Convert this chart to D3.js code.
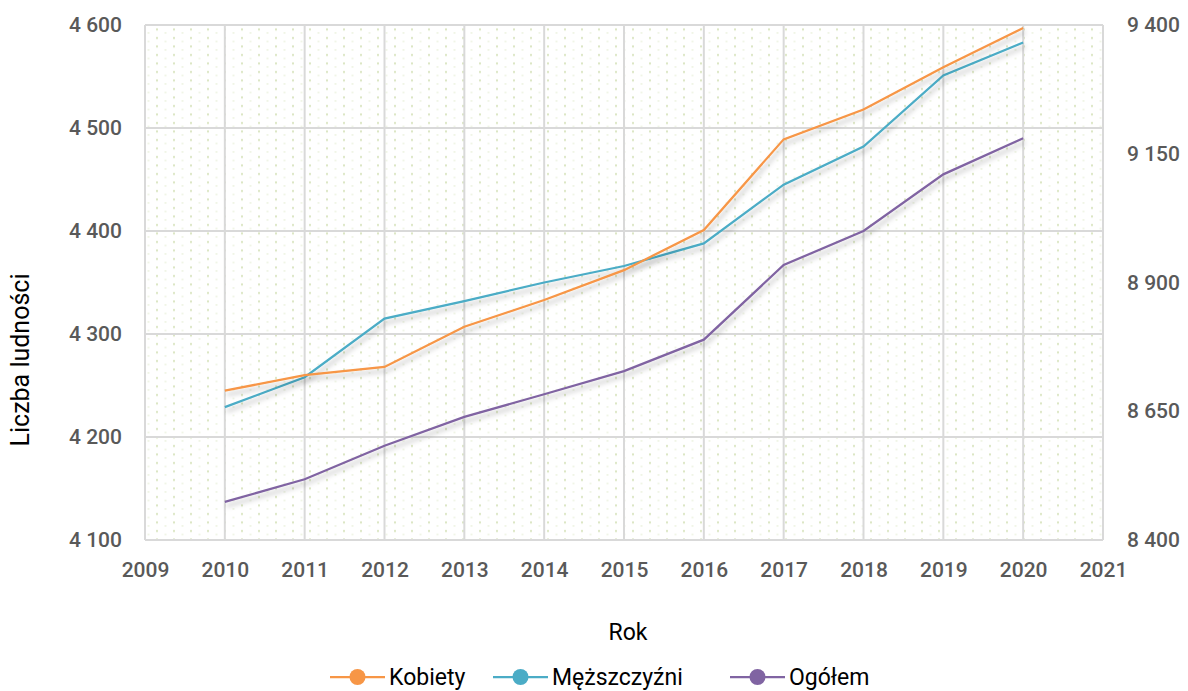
<!DOCTYPE html>
<html>
<head>
<meta charset="utf-8">
<script src="https://cdn.jsdelivr.net/npm/d3@7"></script>
<style>
  body { margin: 0; background: #fff; }
  text { font-family: Roboto, "DejaVu Sans", sans-serif; }
</style>
</head>
<body>
<div id="chart"></div>
<script>
const w = 1188;
const h = 691;

// data
const years = [2010, 2011, 2012, 2013, 2014, 2015, 2016, 2017, 2018, 2019, 2020];
const kobiety = [4245, 4260, 4268, 4307, 4333, 4362, 4401, 4489, 4518, 4559, 4597];
const mezczyzni = [4229, 4258, 4315, 4332, 4350, 4366, 4388, 4445, 4482, 4551, 4583];
const ogolem = [8474, 8518, 8583, 8639, 8683, 8728, 8789, 8934, 9000, 9110, 9180];
const leftTicks = [4100, 4200, 4300, 4400, 4500, 4600];
const rightTicks = [8400, 8650, 8900, 9150, 9400];
const xTicks = [2009, 2010, 2011, 2012, 2013, 2014, 2015, 2016, 2017, 2018, 2019, 2020, 2021];

const pLeft = 145, pRight = 1103, pTop = 25, pBottom = 540;
const fmt = v => d3.format(",")(v).replace(/,/g, " ");

const svg = d3.select('#chart').append('svg')
  .attr('width', w).attr('height', h);

const defs = svg.append('defs');
const pat = defs.append('pattern')
  .attr('id', 'dots').attr('patternUnits', 'userSpaceOnUse')
  .attr('width', 17).attr('height', 8.5);
pat.append('rect').attr('x', 3).attr('y', 3).attr('width', 2).attr('height', 2).attr('fill', '#dae5c2');
pat.append('rect').attr('x', 11.5).attr('y', 7).attr('width', 2).attr('height', 1).attr('fill', '#e4ecd2');

const shadow = defs.append('filter').attr('id', 'shadow')
  .attr('x', '-5%').attr('y', '-5%').attr('width', '110%').attr('height', '120%');
shadow.append('feDropShadow').attr('dx', 2).attr('dy', 4).attr('stdDeviation', 2.5)
  .attr('flood-color', '#000').attr('flood-opacity', 0.25);

const x = d3.scaleLinear().domain([2009, 2021]).range([pLeft, pRight]);
const yL = d3.scaleLinear().domain([4100, 4600]).range([pBottom, pTop]);
const yR = d3.scaleLinear().domain([8400, 9400]).range([pBottom, pTop]);

svg.append('rect').attr('x', pLeft).attr('y', pTop)
  .attr('width', pRight - pLeft).attr('height', pBottom - pTop)
  .attr('fill', 'url(#dots)');

// gridlines
svg.append('g').selectAll('line').data(leftTicks).join('line')
  .attr('x1', pLeft).attr('x2', pRight)
  .attr('y1', d => yL(d)).attr('y2', d => yL(d))
  .attr('stroke', '#d9d9d9').attr('stroke-width', 2);
svg.append('g').selectAll('line').data(xTicks).join('line')
  .attr('y1', pTop).attr('y2', pBottom)
  .attr('x1', d => x(d)).attr('x2', d => x(d))
  .attr('stroke', '#d9d9d9').attr('stroke-width', 2);

// axes
const axL = svg.append('g').attr('transform', 'translate(' + pLeft + ',0)')
  .call(d3.axisLeft(yL).tickValues(leftTicks).tickFormat(fmt).tickSize(0).tickPadding(23));
const axR = svg.append('g').attr('transform', 'translate(' + pRight + ',0)')
  .call(d3.axisRight(yR).tickValues(rightTicks).tickFormat(fmt).tickSize(0).tickPadding(24));
const axB = svg.append('g').attr('transform', 'translate(0,' + pBottom + ')')
  .call(d3.axisBottom(x).tickValues(xTicks).tickFormat(d3.format('d')).tickSize(0).tickPadding(22));
[axL, axR, axB].forEach(a => {
  a.select('.domain').remove();
  a.selectAll('text').attr('font-size', 21).attr('fill', '#595959')
    .attr('font-family', 'Roboto, sans-serif').attr('font-weight', 500);
});

// lines
const series = [
  {name: 'Kobiety', values: kobiety, y: yL, color: '#f79646'},
  {name: 'Męższczyźni', values: mezczyzni, y: yL, color: '#4bacc6'},
  {name: 'Ogółem', values: ogolem, y: yR, color: '#8064a2'}
];
series.slice().reverse().forEach(s => {
  const line = d3.line().x((d, i) => x(years[i])).y(d => s.y(d));
  svg.append('path').datum(s.values)
    .attr('d', line).attr('fill', 'none')
    .attr('stroke', s.color).attr('stroke-width', 2.25)
    .attr('filter', 'url(#shadow)');
});

// axis titles
svg.append('text').attr('x', 628).attr('y', 640).attr('text-anchor', 'middle')
  .attr('font-size', 23).attr('fill', '#000').text('Rok');
svg.append('text').attr('transform', 'translate(29,360) rotate(-90)')
  .attr('text-anchor', 'middle').attr('font-size', 25).attr('fill', '#000')
  .attr('font-family', '"Liberation Sans", Arial, sans-serif')
  .text('Liczba ludności');

// legend
const legendX = [330, 493, 730];
const lg = svg.append('g');
series.forEach((s, i) => {
  const g = lg.append('g').attr('transform', 'translate(' + legendX[i] + ',677)');
  g.append('line').attr('x1', 0).attr('x2', 55).attr('y1', 0).attr('y2', 0)
    .attr('stroke', s.color).attr('stroke-width', 2.25);
  g.append('circle').attr('cx', 27.5).attr('cy', 0).attr('r', 8).attr('fill', s.color);
  g.append('text').attr('x', 59).attr('y', 8).attr('font-size', 23)
    .attr('fill', '#000').text(s.name);
});
</script>
</body>
</html>
